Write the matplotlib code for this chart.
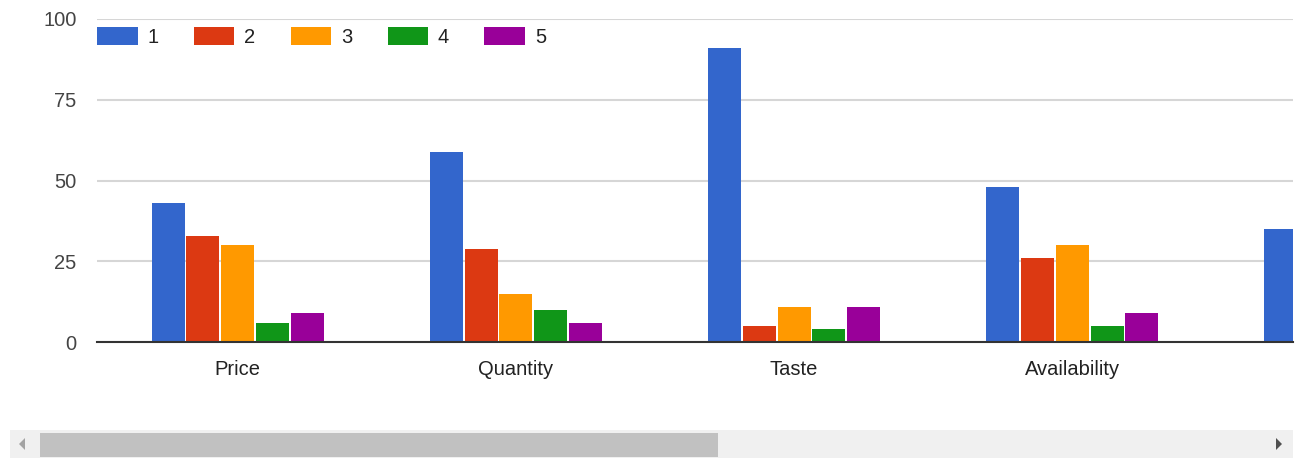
import matplotlib.pyplot as plt
import numpy as np
from matplotlib.patches import Polygon, Rectangle

# %% Data
categories = ["Price", "Quantity", "Taste", "Availability", ""]
series_names = ["1", "2", "3", "4", "5"]
series_1 = [43, 59, 91, 48, 35]
series_2 = [33, 29, 5, 26, np.nan]
series_3 = [30, 15, 11, 30, np.nan]
series_4 = [6, 10, 4, 5, np.nan]
series_5 = [9, 6, 11, 9, np.nan]
y_ticks = [0, 25, 50, 75, 100]

colors = ["#3366cc", "#dc3912", "#ff9900", "#109618", "#990099"]

plt.rcParams["font.family"] = ["Liberation Sans", "DejaVu Sans"]

# %% Figure
fig = plt.figure(figsize=(13, 4.58), dpi=100)
ax = fig.add_axes([97.3 / 1300, 1 - 342.3 / 458, (1292.7 - 97.3) / 1300, (342.3 - 19) / 458])

x = np.arange(len(categories))
slot = 34.8 / 278.2
bar_w = 33 / 278.2
all_series = [series_1, series_2, series_3, series_4, series_5]
for k, (vals, name, c) in enumerate(zip(all_series, series_names, colors)):
    ax.bar(x + (k - 2) * slot, vals, width=bar_w, color=c, label=name, zorder=3)

ax.set_yticks(y_ticks)
ax.set_xticks(x)
ax.set_xticklabels(categories)
# scrolled view: only part of the last group is visible
ax.set_xlim(-0.5047, 3.792)
ax.set_ylim(0, 100)
ax.tick_params(axis="y", length=0, pad=15, labelsize=14.5, labelcolor="#444444")
ax.tick_params(axis="x", length=0, pad=13, labelsize=14.5, labelcolor="#222222")
ax.grid(axis="y", color="#d6d6d6", linewidth=1.5, zorder=0)
for side in ["top", "right", "left"]:
    ax.spines[side].set_visible(False)
ax.spines["bottom"].set_color("#333333")
ax.spines["bottom"].set_linewidth(1.5)
ax.spines["bottom"].set_zorder(4)

leg = ax.legend(
    loc="upper left",
    bbox_to_anchor=(97.3 / 1300, 1 - 27 / 458),
    bbox_transform=fig.transFigure,
    ncol=5,
    frameon=False,
    fontsize=14.5,
    handlelength=2.0,
    handleheight=1.0,
    handletextpad=0.5,
    columnspacing=1.75,
    borderpad=0,
    borderaxespad=0,
)
for t in leg.get_texts():
    t.set_color("#222222")

# %% Scrollbar (figure-level decoration)
W, H = 1300, 458
fig.patches.append(Rectangle((10 / W, 1 - 457.5 / H), 1283 / W, 27.5 / H,
                             transform=fig.transFigure, facecolor="#f0f0f0",
                             edgecolor="none"))
fig.patches.append(Rectangle((40 / W, 1 - 456.7 / H), 678 / W, 23.4 / H,
                             transform=fig.transFigure, facecolor="#c1c1c1",
                             edgecolor="none"))
fig.patches.append(Polygon([(19 / W, 1 - 444 / H), (25 / W, 1 - 438 / H), (25 / W, 1 - 450 / H)],
                           closed=True, transform=fig.transFigure,
                           facecolor="#a3a3a3", edgecolor="none"))
fig.patches.append(Polygon([(1282 / W, 1 - 444 / H), (1276 / W, 1 - 438 / H), (1276 / W, 1 - 450 / H)],
                           closed=True, transform=fig.transFigure,
                           facecolor="#505050", edgecolor="none"))

fig.savefig("out.png", dpi=100)
